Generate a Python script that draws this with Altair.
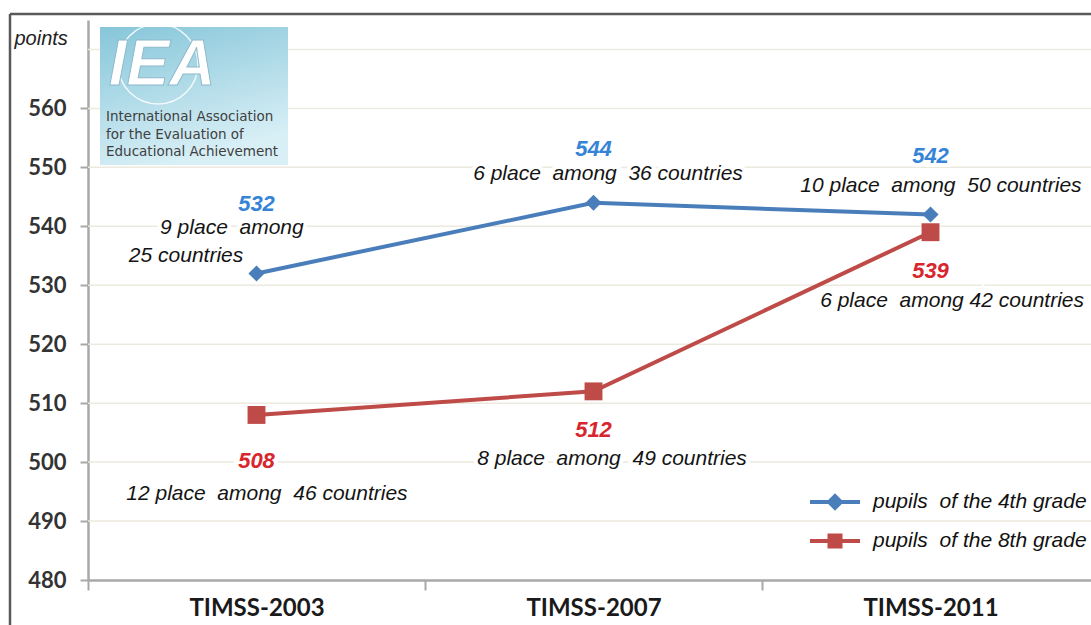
import altair as alt
import pandas as pd

# ---------------- data ----------------
categories = ["TIMSS-2003", "TIMSS-2007", "TIMSS-2011"]
grade4 = [532, 544, 542]
grade8 = [508, 512, 539]
NB = "\u00a0"
series_names = ["pupils" + NB + " of the 4th grade", "pupils" + NB + " of the 8th grade"]

# annotation texts and their anchor (category index, points)
num_text = ["532", "544", "542", "508", "512", "539"]
num_series = ["4", "4", "4", "8", "8", "8"]
num_x = [0.0, 1.0, 2.0, 0.0, 1.0, 2.0]
num_y = [543.8, 553.1, 551.9, 500.2, 505.4, 532.4]

place_text = ["9 place  among", "25 countries", "6 place  among  36 countries",
              "10 place  among  50 countries", "12 place  among  46 countries",
              "8 place  among  49 countries", "6 place  among 42 countries"]
place_text = [t.replace("  ", " " + NB) for t in place_text]
place_x = [-0.073, -0.209, 1.043, 2.031, 0.031, 1.055, 2.064]
place_y = [539.7, 535.0, 548.9, 546.8, 494.6, 500.5, 527.3]

y_ticks = [480, 490, 500, 510, 520, 530, 540, 550, 560]
grid_values = [490, 500, 510, 520, 530, 540, 550, 560, 570]

BLUE = "#4a7ebb"
RED = "#be4b48"
NUM_BLUE = "#3584d6"
NUM_RED = "#d8262e"

W, H = 1003, 560
PAD_L, PAD_T = 88, 20
BAND = 337.0

pts = pd.DataFrame({
    "idx": [0, 1, 2, 0, 1, 2],
    "value": grade4 + grade8,
    "series": [series_names[0]] * 3 + [series_names[1]] * 3,
})
nums = pd.DataFrame({"t": num_text, "x": num_x, "y": num_y,
                     "c": [NUM_BLUE if s == "4" else NUM_RED for s in num_series]})
places = pd.DataFrame({"t": place_text, "x": place_x, "y": place_y})
grid = pd.DataFrame({"g": grid_values})
one = pd.DataFrame({"a": [0]})

xdom = [-0.5, -0.5 + W / BAND]
xscale = alt.Scale(domain=xdom, nice=False, zero=False)
yscale = alt.Scale(domain=[480, 575], nice=False, zero=False)

label_expr = "[" + ",".join("'%s'" % c for c in categories) + "][round(datum.value + 0.5)]"

xaxis = alt.Axis(values=[-0.5, 0.5, 1.5], labelExpr=label_expr, labelOffset=BAND / 2,
                 labelFlush=False, labelOverlap=False, labelAlign="center",
                 labelBaseline="top", labelFont="Lato", labelFontWeight="bold",
                 labelFontSize=24, labelColor="#1a1a1a", labelPadding=6,
                 tickSize=10, tickWidth=2, tickColor="#a8a8a8",
                 domainColor="#a8a8a8", domainWidth=2.5, grid=False, title=None)
yaxis = alt.Axis(values=y_ticks, grid=False, labelFont="Lato", labelFontWeight="bold",
                 labelFontSize=22, labelColor="#333333", labelPadding=14,
                 tickSize=8, tickWidth=2, tickColor="#a8a8a8",
                 domainColor="#a8a8a8", domainWidth=2.5,
                 title="points", titleAngle=0, titleX=-74, titleY=18,
                 titleAlign="left", titleBaseline="middle", titleFont="Liberation Sans",
                 titleFontStyle="italic", titleFontWeight="normal", titleFontSize=20,
                 titleColor="#222222")

# gridlines
grid_layer = alt.Chart(grid).mark_rule(color="#ece9de", strokeWidth=1.5).encode(
    y=alt.Y("g:Q", scale=yscale, axis=yaxis)
)

# logo (IEA)
logo_rect = alt.Chart(one).mark_rect(
    color={"gradient": "linear", "x1": 0, "y1": 0, "x2": 0.35, "y2": 1,
           "stops": [{"offset": 0, "color": "#86c6d9"},
                     {"offset": 1, "color": "#d8eff6"}]}
).encode(x=alt.value(12), x2=alt.value(200), y=alt.value(7), y2=alt.value(145))
logo_globe = alt.Chart(one).mark_point(shape="circle", filled=False, size=6400,
                                        color="white", strokeWidth=1.5, opacity=0.85).encode(
    x=alt.value(70), y=alt.value(44))
logo_letters = alt.Chart(one).mark_text(text="IEA", font="Liberation Sans", fontWeight="bold",
                                         fontStyle="italic", fontSize=64, color="white",
                                         stroke="#8fb9cc", strokeWidth=1,
                                         align="center", baseline="middle").encode(
    x=alt.value(74), y=alt.value(46))
logo_text = alt.Chart(one).mark_text(
    text="International Association\nfor the Evaluation of\nEducational Achievement",
    lineBreak="\n", lineHeight=17.5, font="DejaVu Sans", fontSize=13.5, color="#404040",
    align="left", baseline="middle").encode(x=alt.value(18), y=alt.value(97))

# outer frame
frame_left = alt.Chart(one).mark_rule(color="#595959", strokeWidth=2.5).encode(
    x=alt.value(-78), y=alt.value(-6), y2=alt.value(610))
frame_top = alt.Chart(one).mark_rule(color="#595959", strokeWidth=2.5).encode(
    x=alt.value(-78), x2=alt.value(W + 5), y=alt.value(-6))

# halo behind annotations (breaks gridlines like the original)
halo_num = alt.Chart(nums).mark_text(font="Liberation Sans", fontWeight="bold", fontStyle="italic",
                                     fontSize=22, stroke="white", strokeWidth=8, color="white").encode(
    x=alt.X("x:Q", scale=xscale), y=alt.Y("y:Q", scale=yscale), text="t:N")
halo_place = alt.Chart(places).mark_text(font="Liberation Sans", fontStyle="italic",
                                         fontSize=21, stroke="white", strokeWidth=8, color="white").encode(
    x=alt.X("x:Q", scale=xscale), y=alt.Y("y:Q", scale=yscale), text="t:N")

# data lines and markers
lines = alt.Chart(pts).mark_line(strokeWidth=4).encode(
    x=alt.X("idx:Q", scale=xscale, axis=xaxis),
    y=alt.Y("value:Q", scale=yscale),
    color=alt.Color("series:N", scale=alt.Scale(domain=series_names, range=[BLUE, RED]), legend=None),
)
markers = alt.Chart(pts).mark_point(filled=True, opacity=1).encode(
    x=alt.X("idx:Q", scale=xscale),
    y=alt.Y("value:Q", scale=yscale),
    color=alt.Color("series:N", scale=alt.Scale(domain=series_names, range=[BLUE, RED]), legend=None),
    shape=alt.Shape("series:N", scale=alt.Scale(domain=series_names, range=["diamond", "square"]), legend=None),
    size=alt.Size("series:N", scale=alt.Scale(domain=series_names, range=[260, 320]), legend=None),
)

# legend (line + marker symbols)
diamond_line = ("M-2,-0.16L-0.54,-0.16L0,-0.7L0.54,-0.16L2,-0.16L2,0.16L0.54,0.16"
                "L0,0.7L-0.54,0.16L-2,0.16Z")
square_line = ("M-2,-0.16L-0.6,-0.16L-0.6,-0.6L0.6,-0.6L0.6,-0.16L2,-0.16L2,0.16"
               "L0.6,0.16L0.6,0.6L-0.6,0.6L-0.6,0.16L-2,0.16Z")
legend_cfg = alt.Legend(title=None, orient="none", legendX=734.5, legendY=469.5,
                        symbolSize=625, labelOffset=25.5, rowPadding=16, padding=0,
                        labelFont="Liberation Sans", labelFontStyle="italic", labelFontSize=21,
                        labelColor="#111111", labelLimit=500, symbolStrokeWidth=0,
                        symbolOpacity=1)
legend_layer = alt.Chart(pts).mark_point(filled=True, opacity=1).encode(
    x=alt.X("idx:Q", scale=xscale),
    y=alt.Y("value:Q", scale=yscale),
    color=alt.Color("series:N", scale=alt.Scale(domain=series_names, range=[BLUE, RED]), legend=legend_cfg),
    shape=alt.Shape("series:N", scale=alt.Scale(domain=series_names, range=[diamond_line, square_line]),
                    legend=legend_cfg),
).transform_filter("false")

# annotations
num_layer = alt.Chart(nums).mark_text(font="Liberation Sans", fontWeight="bold", fontStyle="italic",
                                      fontSize=22, align="center", baseline="middle").encode(
    x=alt.X("x:Q", scale=xscale), y=alt.Y("y:Q", scale=yscale), text="t:N",
    color=alt.Color("c:N", scale=None))
place_layer = alt.Chart(places).mark_text(font="Liberation Sans", fontStyle="italic", fontSize=21,
                                          align="center", baseline="middle", color="#141414").encode(
    x=alt.X("x:Q", scale=xscale), y=alt.Y("y:Q", scale=yscale), text="t:N")

chart = alt.layer(
    grid_layer, logo_rect, logo_globe, logo_letters, logo_text, frame_left, frame_top,
    halo_num, halo_place, lines, markers, legend_layer, num_layer, place_layer
).resolve_scale(color="independent", shape="independent", size="independent").properties(
    width=W, height=H,
    autosize=alt.AutoSizeParams(type="none"),
    padding={"left": PAD_L, "top": PAD_T, "right": 0, "bottom": 45},
    background="white",
).configure_view(stroke=None)

chart.save("out.html", embed_options={"renderer": "svg", "actions": False})
